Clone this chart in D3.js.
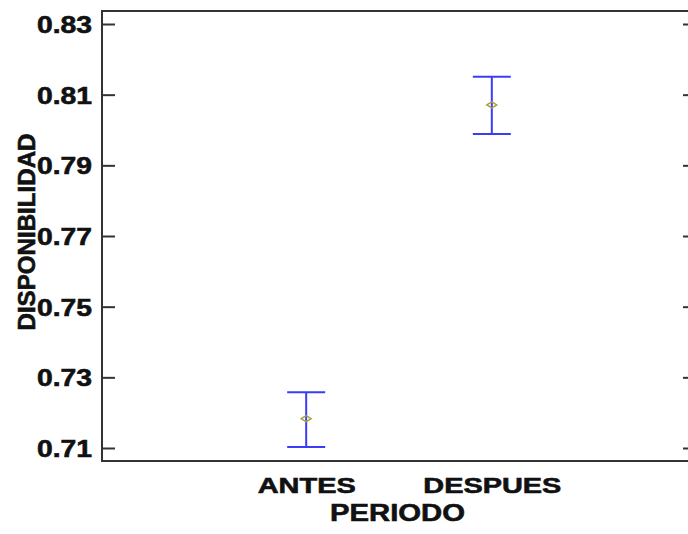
<!DOCTYPE html>
<html>
<head>
<meta charset="utf-8">
<script src="https://cdn.jsdelivr.net/npm/d3@7"></script>
<style>
  html, body { margin: 0; padding: 0; background: #fff; }
  svg { display: block; }
  text { font-family: "Liberation Sans", Arial, sans-serif; font-weight: bold; fill: #111; stroke: #111; stroke-width: 0.6; }
</style>
</head>
<body>
<svg id="chart" width="688" height="534"></svg>
<script>
// ---- data ----
const periods = ["ANTES", "DESPUES"];
const means = [0.7183, 0.8071];
const lower = [0.7103, 0.7989];
const upper = [0.7258, 0.8151];
const yTicks = [0.71, 0.73, 0.75, 0.77, 0.79, 0.81, 0.83];
const xTitle = "PERIODO";
const yTitle = "DISPONIBILIDAD";

// ---- layout ----
const L = 102, R = 696, T = 11, B = 461;
const svg = d3.select("#chart");

const y = d3.scaleLinear().domain([0.70632, 0.83368]).range([B, T]);
const x = d3.scalePoint().domain(periods).range([L, R]).padding(1.1);

// frame
svg.append("rect")
  .attr("x", L).attr("y", T).attr("width", R - L).attr("height", B - T)
  .attr("fill", "none").attr("stroke", "#333").attr("stroke-width", 2);

// left axis
const gl = svg.append("g").attr("transform", `translate(${L},0)`)
  .call(d3.axisLeft(y).tickValues(yTicks).tickFormat(d3.format(".2f"))
    .tickSizeInner(-13).tickSizeOuter(0).tickPadding(10));
gl.select(".domain").remove();
gl.selectAll(".tick line").attr("stroke", "#333").attr("stroke-width", 2);
gl.selectAll(".tick text")
  .attr("font-size", 24).attr("font-family", "Liberation Sans, Arial, sans-serif")
  .attr("font-weight", "bold").attr("fill", "#111")
  .attr("dy", "0.36em")
  .attr("textLength", 55).attr("lengthAdjust", "spacingAndGlyphs");

// right axis
const gr = svg.append("g").attr("transform", `translate(${R},0)`)
  .call(d3.axisRight(y).tickValues(yTicks).tickFormat("")
    .tickSizeInner(-13).tickSizeOuter(0));
gr.select(".domain").remove();
gr.selectAll(".tick line").attr("stroke", "#333").attr("stroke-width", 2);

// x axis labels
const gx = svg.append("g").attr("transform", `translate(0,${B})`)
  .call(d3.axisBottom(x).tickSize(0).tickPadding(0));
gx.select(".domain").remove();
const xLen = {"ANTES": 98, "DESPUES": 138};
gx.selectAll(".tick text")
  .attr("y", 32).attr("dy", 0)
  .attr("font-size", 22).attr("font-family", "Liberation Sans, Arial, sans-serif")
  .attr("font-weight", "bold").attr("fill", "#111")
  .attr("textLength", d => xLen[d]).attr("lengthAdjust", "spacingAndGlyphs");

// x title
svg.append("text")
  .attr("x", (L + R) / 2 - 1.5).attr("y", 521)
  .attr("text-anchor", "middle").attr("font-size", 24.5)
  .attr("textLength", 135).attr("lengthAdjust", "spacingAndGlyphs")
  .text(xTitle);

// y title
svg.append("text")
  .attr("transform", "translate(35,232) rotate(-90)")
  .attr("text-anchor", "middle").attr("font-size", 24)
  .attr("textLength", 197).attr("lengthAdjust", "spacingAndGlyphs")
  .text(yTitle);

// error bars
const data = periods.map((p, i) => ({p, m: means[i], lo: lower[i], hi: upper[i]}));
const cap = 19;
const blue = "#3c3cf5";
const eb = svg.append("g").selectAll("g").data(data).join("g");
eb.append("line")
  .attr("x1", d => x(d.p)).attr("x2", d => x(d.p))
  .attr("y1", d => y(d.hi)).attr("y2", d => y(d.lo))
  .attr("stroke", blue).attr("stroke-width", 2);
eb.append("line")
  .attr("x1", d => x(d.p) - cap).attr("x2", d => x(d.p) + cap)
  .attr("y1", d => y(d.hi)).attr("y2", d => y(d.hi))
  .attr("stroke", blue).attr("stroke-width", 2);
eb.append("line")
  .attr("x1", d => x(d.p) - cap).attr("x2", d => x(d.p) + cap)
  .attr("y1", d => y(d.lo)).attr("y2", d => y(d.lo))
  .attr("stroke", blue).attr("stroke-width", 2);
// mean markers
eb.append("path")
  .attr("d", d => {
    const cx = x(d.p), cy = y(d.m);
    return `M${cx-5},${cy} L${cx},${cy-3} L${cx+5},${cy} L${cx},${cy+3} Z`;
  })
  .attr("fill", "none").attr("stroke", "#a8a040").attr("stroke-width", 1.4);
</script>
</body>
</html>
